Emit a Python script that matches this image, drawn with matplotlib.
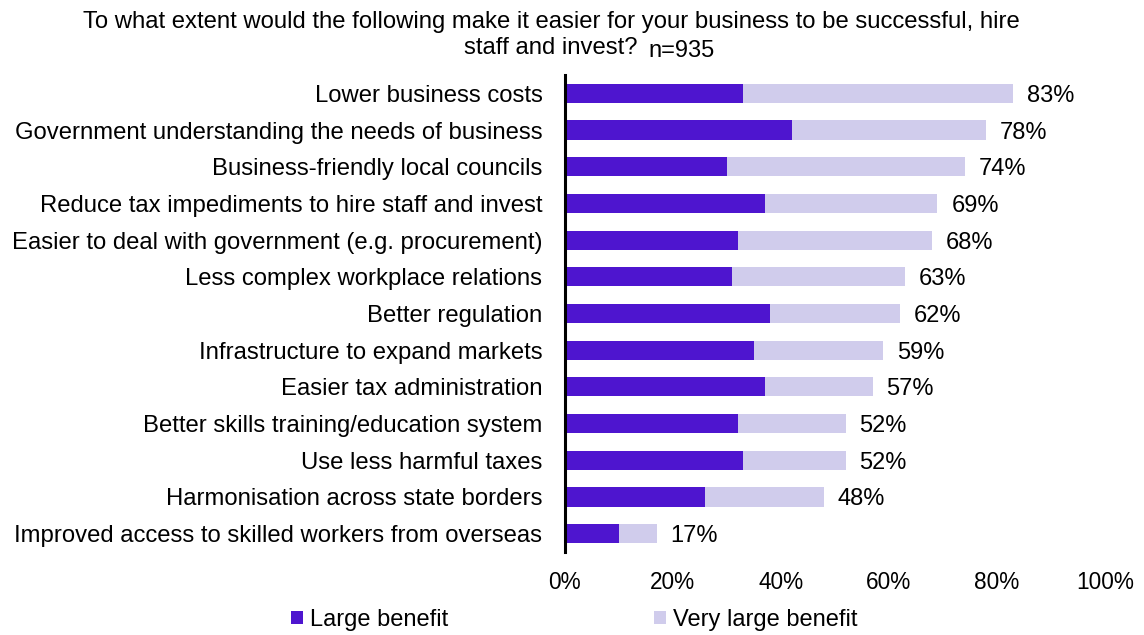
import numpy as np
import matplotlib
matplotlib.use("Agg")
import matplotlib.pyplot as plt

plt.rcParams['font.family'] = ['Liberation Sans', 'DejaVu Sans']

# survey results (% of respondents), top to bottom
categories = [
    "Lower business costs",
    "Government understanding the needs of business",
    "Business-friendly local councils",
    "Reduce tax impediments to hire staff and invest",
    "Easier to deal with government (e.g. procurement)",
    "Less complex workplace relations",
    "Better regulation",
    "Infrastructure to expand markets",
    "Easier tax administration",
    "Better skills training/education system",
    "Use less harmful taxes",
    "Harmonisation across state borders",
    "Improved access to skilled workers from overseas",
]
large_benefit = [33, 42, 30, 37, 32, 31, 38, 35, 37, 32, 33, 26, 10]
very_large_benefit = [50, 36, 44, 32, 36, 32, 24, 24, 20, 20, 19, 22, 7]
xticks = [0, 20, 40, 60, 80, 100]

DARK = "#4E15CF"
LIGHT = "#D0CCEC"

large = np.array(large_benefit) / 100
very_large = np.array(very_large_benefit) / 100
total = large + very_large
y = np.arange(len(categories))

fig = plt.figure(figsize=(11.44, 6.35), dpi=100)
ax = fig.add_axes([0.4936, 0.1307, 0.4723, 0.7512])

ax.barh(y, large, height=0.52, color=DARK, label="Large benefit")
ax.barh(y, very_large, left=large, height=0.52, color=LIGHT, label="Very large benefit")

# total labels at the end of each bar
for yi, t in zip(y, total):
    ax.annotate(f"{round(t * 100)}%", xy=(t, yi), xytext=(10, 0), textcoords="offset points",
                va="center_baseline", ha="left", fontsize=17)

ax.set_xlim(0, 1)
ax.set_ylim(len(categories) - 0.5, -0.5)
ax.set_yticks(y)
ax.set_yticklabels(categories, fontsize=17.2)
ax.set_xticks([v / 100 for v in xticks])
ax.set_xticklabels([f"{v}%" for v in xticks], fontsize=16.3)
ax.tick_params(axis='both', length=0)
ax.tick_params(axis='y', pad=16)
ax.tick_params(axis='x', pad=14)

for s in ["top", "right", "bottom"]:
    ax.spines[s].set_visible(False)
ax.spines["left"].set_linewidth(2.2)
ax.spines["left"].set_color("black")

fig.text(0.4817, 0.966, "To what extent would the following make it easier for your business to be successful, hire",
         ha="center", va="center", fontsize=17.2)
fig.text(0.4817, 0.925, "staff and invest?", ha="center", va="center", fontsize=17.2)
fig.text(0.567, 0.920, "n=935", ha="left", va="center", fontsize=17)

fig.legend(loc="center", bbox_to_anchor=(0.502, 0.024), ncol=2, frameon=False, fontsize=17,
           handlelength=0.5, handleheight=0.5, handletextpad=0.3, columnspacing=8.7)

fig.savefig("out.png", dpi=100)
